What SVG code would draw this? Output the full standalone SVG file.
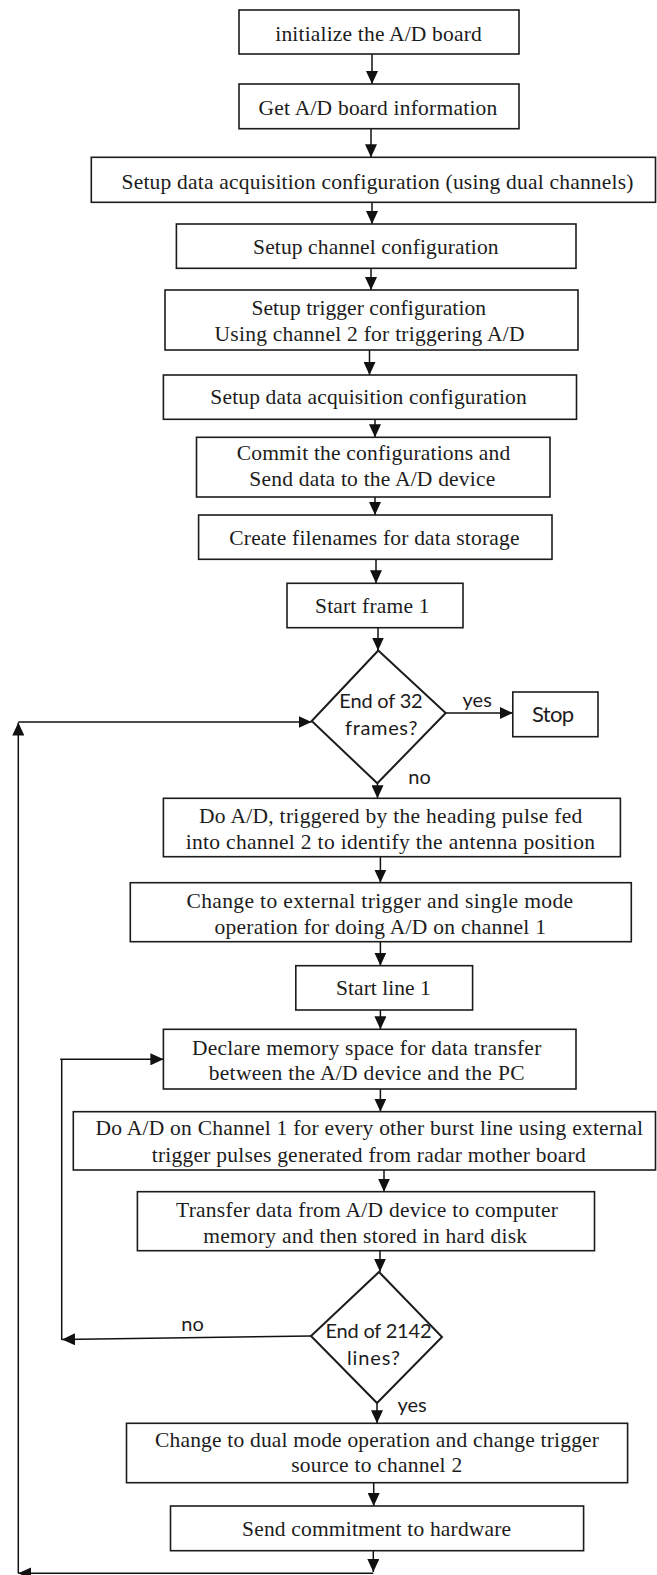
<svg xmlns="http://www.w3.org/2000/svg" width="657" height="1575" viewBox="0 0 657 1575">
  <style>
    .box { fill: #fff; stroke: #1c1c1c; stroke-width: 1.6; }
    .dia { fill: #fff; stroke: #1c1c1c; stroke-width: 2; }
    .t { font-family: "Liberation Serif", "Times New Roman", serif; font-size: 21.5px; fill: #1c1c1c; text-anchor: middle; }
    .s { font-family: Lato, "Liberation Sans", sans-serif; font-size: 20px; fill: #1c1c1c; text-anchor: middle; }
    .conn { fill: none; stroke: #111; stroke-width: 1.5; marker-end: url(#ah); }
    .plain { fill: none; stroke: #111; stroke-width: 1.5; }
  </style>
  <defs>
    <marker id="ah" markerUnits="userSpaceOnUse" markerWidth="13" markerHeight="12" refX="13" refY="6" orient="auto">
      <path d="M0,0 L13,6 L0,12 z" fill="#111"/>
    </marker>
  </defs>
  <rect width="657" height="1575" fill="#fff"/>

  <!-- connectors -->
  <g id="connectors">
    <path class="conn" d="M372,54 V84"/>
    <path class="conn" d="M371,128.7 V157.3"/>
    <path class="conn" d="M372,190 V224"/>
    <path class="conn" d="M371,268.3 V290"/>
    <path class="conn" d="M369.5,350 V375"/>
    <path class="conn" d="M375,419.3 V437.3"/>
    <path class="conn" d="M375,497 V515"/>
    <path class="conn" d="M376,559.3 V583.3"/>
    <path class="conn" d="M378,627.7 V650.5"/>
    <path class="conn" d="M445.7,713 H512.8"/>
    <path class="conn" d="M377.5,783.3 V798.3"/>
    <path class="conn" d="M380.4,856.7 V882.7"/>
    <path class="conn" d="M380.4,941.7 V965.7"/>
    <path class="conn" d="M380.4,1010 V1029.3"/>
    <path class="conn" d="M380.4,1089 V1111.7"/>
    <path class="conn" d="M384,1170 V1191.7"/>
    <path class="conn" d="M380,1250.7 V1271.7"/>
    <path class="conn" d="M377,1403 V1423.3"/>
    <path class="conn" d="M373.7,1482.7 V1506"/>
    <path class="conn" d="M373.3,1550.7 V1572"/>
    <!-- outer loop: back to the frame test -->
    <path class="conn" d="M373.3,1573.3 H18.3"/>
    <path class="conn" d="M18.3,1573.3 V722.5"/>
    <path class="conn" d="M18.3,722 H311.5"/>
    <!-- inner loop: back to memory declaration -->
    <path class="conn" d="M311,1336 L62,1339.5" stroke="#333"/>
    <path class="plain" d="M61.7,1340 V1059.3" stroke-width="3"/>
    <path class="conn" d="M60.2,1059.3 H163.4"/>
  </g>

  <g id="n1">
    <rect class="box" x="239" y="10" width="280" height="44"/>
    <text class="t" x="378.5" y="41" textLength="206.5">initialize the A/D board</text>
  </g>
  <g id="n2">
    <rect class="box" x="239" y="84" width="280" height="44.7"/>
    <text class="t" x="377.9" y="115" textLength="238.8">Get A/D board information</text>
  </g>
  <g id="n3">
    <rect class="box" x="91.3" y="157.3" width="564.2" height="45"/>
    <text class="t" x="377.5" y="188.7" textLength="512">Setup data acquisition configuration  (using dual channels)</text>
  </g>
  <g id="n4">
    <rect class="box" x="176.4" y="224" width="399.6" height="44.3"/>
    <text class="t" x="375.8" y="254.3" textLength="245.5">Setup channel  configuration</text>
  </g>
  <g id="n5">
    <rect class="box" x="165" y="290" width="413" height="60"/>
    <text class="t" x="368.7" y="315.3" textLength="234.6">Setup trigger  configuration</text>
    <text class="t" x="369.5" y="341" textLength="310">Using channel 2 for triggering  A/D</text>
  </g>
  <g id="n6">
    <rect class="box" x="163.4" y="375" width="413.1" height="44.3"/>
    <text class="t" x="368.5" y="403.7" textLength="316.3">Setup data acquisition  configuration</text>
  </g>
  <g id="n7">
    <rect class="box" x="196.5" y="437.3" width="353.5" height="59.7"/>
    <text class="t" x="373.5" y="460.3" textLength="273.6">Commit the configurations  and</text>
    <text class="t" x="372.3" y="486.3" textLength="246">Send  data to the A/D device</text>
  </g>
  <g id="n8">
    <rect class="box" x="198.6" y="515" width="353.4" height="44.3"/>
    <text class="t" x="374.4" y="545.3" textLength="290.3">Create filenames  for data storage</text>
  </g>
  <g id="n9">
    <rect class="box" x="287" y="583.3" width="176" height="44.4"/>
    <text class="t" x="372.2" y="613" textLength="114.4">Start frame 1</text>
  </g>
  <g id="d1">
    <polygon class="dia" points="378.3,650.5 445.7,713 377.3,783.3 311.7,721"/>
    <text class="s" x="381" y="708.3" textLength="83.4">End of 32</text>
    <text class="s" x="381.2" y="735" textLength="72.3">frames?</text>
    <text class="s" x="477.2" y="706.7">yes</text>
    <text class="s" x="419.5" y="784">no</text>
  </g>
  <g id="stop">
    <rect class="box" x="512.8" y="692" width="85.2" height="44.7"/>
    <text class="s" x="553" y="721.5" style="font-size:22px" textLength="42">Stop</text>
  </g>
  <g id="n10">
    <rect class="box" x="163.4" y="798.3" width="457" height="58.4"/>
    <text class="t" x="390.7" y="823" textLength="383.3">Do A/D, triggered  by the heading  pulse fed</text>
    <text class="t" x="390.3" y="848.7" textLength="409.3">into channel 2 to identify the antenna position</text>
  </g>
  <g id="n11">
    <rect class="box" x="130.3" y="882.7" width="501" height="59"/>
    <text class="t" x="379.8" y="907.7" textLength="386.7">Change  to external  trigger  and single  mode</text>
    <text class="t" x="380.2" y="933.7" textLength="331.4">operation for doing  A/D on channel  1</text>
  </g>
  <g id="n12">
    <rect class="box" x="295.8" y="965.7" width="176.8" height="44.3"/>
    <text class="t" x="383.4" y="995" textLength="94.7">Start line 1</text>
  </g>
  <g id="n13">
    <rect class="box" x="163.4" y="1029.3" width="412.6" height="59.7"/>
    <text class="t" x="366.6" y="1055.3" textLength="349.4">Declare memory space for data transfer</text>
    <text class="t" x="366.6" y="1080.3" textLength="315.9">between the A/D device  and the PC</text>
  </g>
  <g id="n14">
    <rect class="box" x="73.3" y="1111.7" width="582.2" height="58.3"/>
    <text class="t" x="369.3" y="1135.3" textLength="547.5">Do A/D on Channel 1 for every other burst line using external</text>
    <text class="t" x="368.7" y="1162" textLength="434">trigger  pulses generated  from radar mother board</text>
  </g>
  <g id="n15">
    <rect class="box" x="137.4" y="1191.7" width="457.1" height="59"/>
    <text class="t" x="367" y="1217" textLength="382">Transfer data from A/D device to computer</text>
    <text class="t" x="365.1" y="1243" textLength="323.8">memory and then stored in hard disk</text>
  </g>
  <g id="d2">
    <polygon class="dia" points="379,1272 442,1337 377,1403 311,1336"/>
    <text class="s" x="378.5" y="1338" textLength="106">End of 2142</text>
    <text class="s" x="373.5" y="1365" textLength="53">lines?</text>
    <text class="s" x="192.5" y="1331">no</text>
    <text class="s" x="412" y="1412">yes</text>
  </g>
  <g id="n16">
    <rect class="box" x="126.5" y="1423.3" width="501.1" height="59.4"/>
    <text class="t" x="377" y="1447" textLength="444">Change  to dual mode operation and change  trigger</text>
    <text class="t" x="376.7" y="1472" textLength="171">source to channel 2</text>
  </g>
  <g id="n17">
    <rect class="box" x="170.5" y="1506" width="413.1" height="44.7"/>
    <text class="t" x="376.6" y="1536.3" textLength="269">Send  commitment  to hardware</text>
  </g>
</svg>
